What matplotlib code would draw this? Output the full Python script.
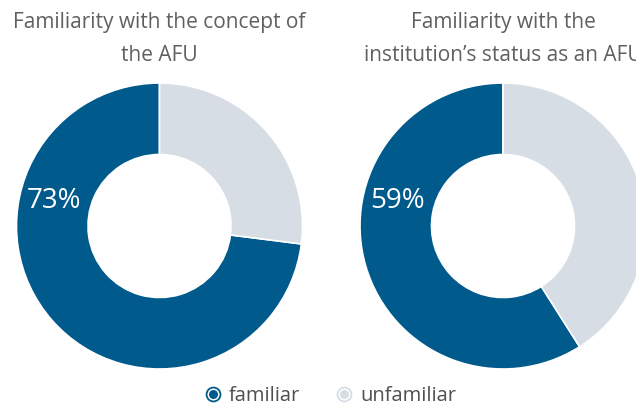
import matplotlib
matplotlib.use("Agg")
import matplotlib.pyplot as plt

# ---- data ----
titles = ["Familiarity with the concept of\nthe AFU",
          "Familiarity with the\ninstitution\u2019s status as an AFU"]
categories = ["familiar", "unfamiliar"]
familiar_pct = [73, 59]
unfamiliar_pct = [27, 41]
colors = ["#005A8C", "#D6DDE5"]

plt.rcParams['font.family'] = ['Open Sans', 'DejaVu Sans']

W, H = 636, 406
fig = plt.figure(figsize=(W / 100, H / 100), dpi=100)

R_PX = 143.0
centers = [(159.5, 406 - 227), (503.0, 406 - 227)]
half = 150.0
lim = half / R_PX

for i, (cx, cy) in enumerate(centers):
    ax = fig.add_axes([(cx - half) / W, (cy - half) / H, 2 * half / W, 2 * half / H])
    ax.pie([familiar_pct[i], unfamiliar_pct[i]], colors=colors, startangle=90,
           counterclock=True, radius=1.0,
           wedgeprops=dict(width=0.5, edgecolor="white", linewidth=1.2))
    ax.set_xlim(-lim, lim)
    ax.set_ylim(-lim, lim)
    ax.set_aspect("equal")
    ax.axis("off")
    ax.text(-0.735, 0.18, f"{familiar_pct[i]}%", color="white", fontsize=20,
            ha="center", va="center")
    fig.text(cx / W, 1 - 12 / H, titles[i], ha="center", va="top", fontsize=15,
             color="#606060", linespacing=1.75)

# legend
lax = fig.add_axes([0, 0, 1, 1], facecolor="none")
lax.set_xlim(0, W)
lax.set_ylim(0, H)
lax.axis("off")
leg_x = [213, 344]
leg_y = 406 - 395
for lx, lab, col in zip(leg_x, categories, colors):
    lax.plot([lx], [leg_y], marker="o", markersize=10, markerfacecolor="white",
             markeredgecolor=col, markeredgewidth=1.3, linestyle="none")
    lax.plot([lx], [leg_y], marker="o", markersize=6.5, markerfacecolor=col,
             markeredgecolor=col, markeredgewidth=0, linestyle="none")
    lax.text(lx + 16, leg_y - 1, lab, fontsize=14.5, color="#505050",
             ha="left", va="center")

fig.savefig("out.png", dpi=100)
